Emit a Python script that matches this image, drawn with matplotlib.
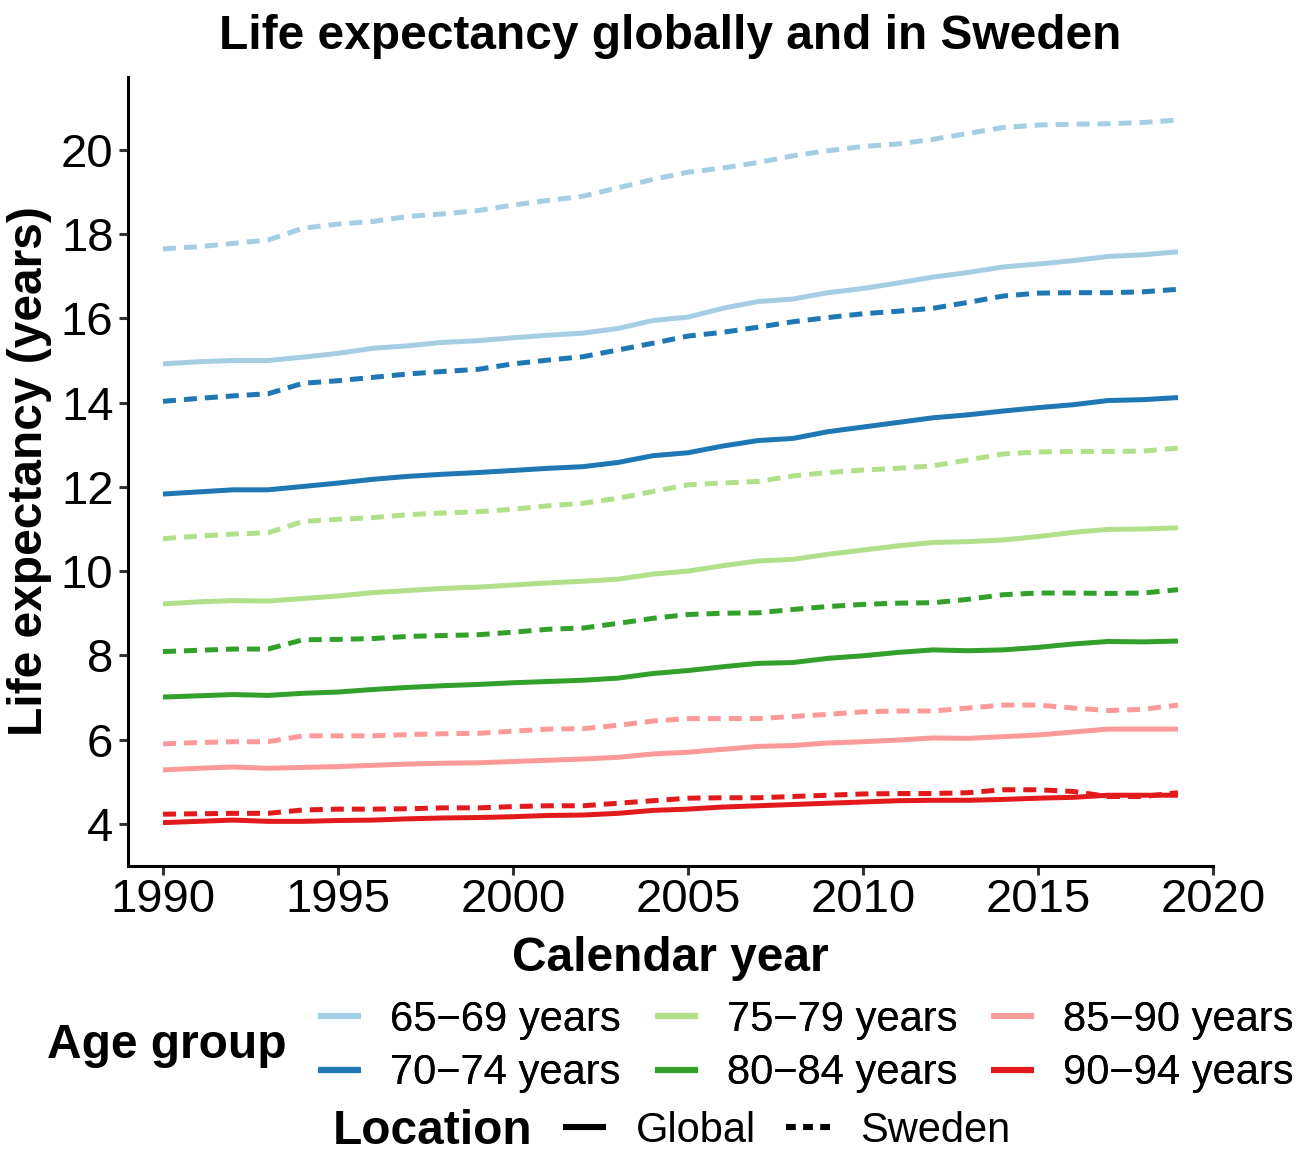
import matplotlib
matplotlib.use("Agg")
import matplotlib.pyplot as plt
from matplotlib.lines import Line2D

plt.rcParams['font.family'] = ['Liberation Sans', 'DejaVu Sans']

years = list(range(1990, 2020))

age_groups = ["65−69 years", "70−74 years", "75−79 years",
              "80−84 years", "85−90 years", "90−94 years"]
colors = ["#A6CEE3", "#1F78B4", "#B2DF8A", "#33A02C", "#FB9A99", "#E31A1C"]

global_65 = [14.92, 14.97, 15.00, 15.00, 15.08, 15.17, 15.29, 15.35, 15.43, 15.47,
             15.54, 15.60, 15.65, 15.76, 15.95, 16.03, 16.24, 16.40, 16.46, 16.61,
             16.71, 16.84, 16.98, 17.09, 17.22, 17.29, 17.37, 17.47, 17.51, 17.58]
sweden_65 = [17.65, 17.70, 17.78, 17.86, 18.14, 18.24, 18.30, 18.42, 18.48, 18.56,
             18.69, 18.80, 18.90, 19.10, 19.30, 19.47, 19.57, 19.70, 19.86, 19.98,
             20.08, 20.14, 20.25, 20.39, 20.53, 20.59, 20.61, 20.62, 20.65, 20.71]
global_70 = [11.83, 11.88, 11.93, 11.93, 12.01, 12.09, 12.18, 12.25, 12.30, 12.34,
             12.39, 12.44, 12.48, 12.58, 12.74, 12.81, 12.97, 13.10, 13.15, 13.31,
             13.42, 13.53, 13.64, 13.71, 13.80, 13.88, 13.95, 14.05, 14.07, 14.12]
sweden_70 = [14.03, 14.10, 14.16, 14.21, 14.46, 14.52, 14.60, 14.68, 14.74, 14.79,
             14.92, 15.01, 15.09, 15.25, 15.41, 15.58, 15.67, 15.79, 15.92, 16.02,
             16.11, 16.17, 16.24, 16.38, 16.53, 16.60, 16.61, 16.61, 16.63, 16.69]
global_75 = [9.22, 9.27, 9.30, 9.29, 9.35, 9.41, 9.49, 9.54, 9.59, 9.62,
             9.67, 9.72, 9.76, 9.81, 9.93, 10.00, 10.13, 10.24, 10.28, 10.40,
             10.50, 10.60, 10.68, 10.70, 10.74, 10.82, 10.92, 10.99, 11.00, 11.03]
sweden_75 = [10.77, 10.83, 10.88, 10.91, 11.18, 11.23, 11.27, 11.34, 11.38, 11.41,
             11.47, 11.55, 11.61, 11.73, 11.89, 12.05, 12.09, 12.13, 12.26, 12.34,
             12.40, 12.44, 12.50, 12.64, 12.78, 12.83, 12.84, 12.84, 12.85, 12.92]
global_80 = [7.01, 7.04, 7.07, 7.05, 7.10, 7.13, 7.19, 7.24, 7.28, 7.31,
             7.35, 7.38, 7.41, 7.46, 7.57, 7.64, 7.73, 7.81, 7.83, 7.93,
             7.99, 8.07, 8.13, 8.11, 8.13, 8.19, 8.27, 8.33, 8.32, 8.34]
sweden_80 = [8.09, 8.12, 8.15, 8.15, 8.37, 8.38, 8.40, 8.45, 8.47, 8.49,
             8.55, 8.62, 8.65, 8.76, 8.88, 8.97, 9.00, 9.01, 9.09, 9.16,
             9.21, 9.24, 9.25, 9.33, 9.44, 9.48, 9.48, 9.47, 9.48, 9.56]
global_85 = [5.28, 5.32, 5.35, 5.32, 5.34, 5.36, 5.39, 5.42, 5.44, 5.45,
             5.48, 5.51, 5.54, 5.58, 5.66, 5.70, 5.77, 5.84, 5.86, 5.92,
             5.95, 5.99, 6.04, 6.03, 6.07, 6.11, 6.18, 6.25, 6.25, 6.25]
sweden_85 = [5.90, 5.93, 5.95, 5.95, 6.09, 6.09, 6.09, 6.12, 6.14, 6.15,
             6.20, 6.25, 6.26, 6.34, 6.44, 6.50, 6.50, 6.50, 6.55, 6.60,
             6.66, 6.68, 6.68, 6.75, 6.82, 6.82, 6.75, 6.69, 6.72, 6.82]
global_90 = [4.03, 4.06, 4.09, 4.06, 4.06, 4.08, 4.09, 4.12, 4.14, 4.15,
             4.17, 4.20, 4.21, 4.25, 4.32, 4.35, 4.40, 4.43, 4.46, 4.49,
             4.52, 4.55, 4.56, 4.56, 4.58, 4.61, 4.63, 4.68, 4.68, 4.68]
sweden_90 = [4.23, 4.24, 4.25, 4.25, 4.33, 4.35, 4.35, 4.36, 4.38, 4.38,
             4.41, 4.43, 4.43, 4.49, 4.55, 4.61, 4.62, 4.62, 4.65, 4.68,
             4.71, 4.72, 4.72, 4.74, 4.81, 4.81, 4.77, 4.65, 4.65, 4.74]

global_series = [global_65, global_70, global_75, global_80, global_85, global_90]
sweden_series = [sweden_65, sweden_70, sweden_75, sweden_80, sweden_85, sweden_90]

W, H = 1303, 1153
LW = 3.6
DASH = (2.6, 1.6)


def plot_and_save():
    fig = plt.figure(figsize=(W / 100, H / 100), dpi=100)
    ax = fig.add_axes([128 / W, 1 - 866 / H, (1213 - 128) / W, (866 - 77) / H])

    for col, glob, swe in zip(colors, global_series, sweden_series):
        ax.plot(years, glob, color=col, lw=LW, solid_capstyle='butt')
        ax.plot(years, swe, color=col, lw=LW, dashes=DASH, dash_capstyle='butt')

    ax.set_xlim(1989, 2020)
    ax.set_ylim(3, 21.73)
    ax.set_xticks([1990, 1995, 2000, 2005, 2010, 2015, 2020])
    ax.set_yticks([4, 6, 8, 10, 12, 14, 16, 18, 20])

    for s in ['top', 'right']:
        ax.spines[s].set_visible(False)
    for s in ['left', 'bottom']:
        ax.spines[s].set_linewidth(2.2)
        ax.spines[s].set_color('black')
    ax.tick_params(axis='both', colors='#333333', width=2.2, length=6.5,
                   labelsize=34, labelcolor='black')
    ax.tick_params(axis='x', pad=2)
    ax.tick_params(axis='y', pad=4)

    ax.set_title("Life expectancy globally and in Sweden", fontsize=34.5,
                 fontweight='bold', pad=20)
    ax.set_xlabel("Calendar year", fontsize=34.5, fontweight='bold', labelpad=10)
    ax.set_ylabel("Life expectancy (years)", fontsize=34.5, fontweight='bold', labelpad=6)

    # legend: age group (colour)
    age_handles = [Line2D([0], [0], color=c, lw=4.4, solid_capstyle='butt') for c in colors]
    leg1 = fig.legend(age_handles, age_groups, ncol=3, fontsize=30, frameon=False,
                      loc='center left', bbox_to_anchor=(318 / W, 1 - 1046.5 / H),
                      borderpad=0, borderaxespad=0, handlelength=1.04,
                      handletextpad=0.7, columnspacing=0.8, labelspacing=0.32)
    fig.text(47 / W, 1 - 1045 / H, "Age group", fontsize=34.5, fontweight='bold',
             ha='left', va='center')

    # legend: location (linetype)
    loc_handles = [Line2D([0], [0], color='black', lw=4.4, solid_capstyle='butt'),
                   Line2D([0], [0], color='black', lw=4.4, dashes=(1.6, 1.2),
                          dash_capstyle='butt')]
    fig.legend(loc_handles, ["Global", "Sweden"], ncol=2, fontsize=30, frameon=False,
               loc='center left', bbox_to_anchor=(563 / W, 1 - 1131 / H),
               borderpad=0, borderaxespad=0, handlelength=1.04,
               handletextpad=0.72, columnspacing=0.72)
    fig.add_artist(leg1)
    fig.text(333 / W, 1 - 1131 / H, "Location", fontsize=34.5, fontweight='bold',
             ha='left', va='center')

    fig.savefig("out.png", dpi=100)


if __name__ == '__main__':
    plot_and_save()
